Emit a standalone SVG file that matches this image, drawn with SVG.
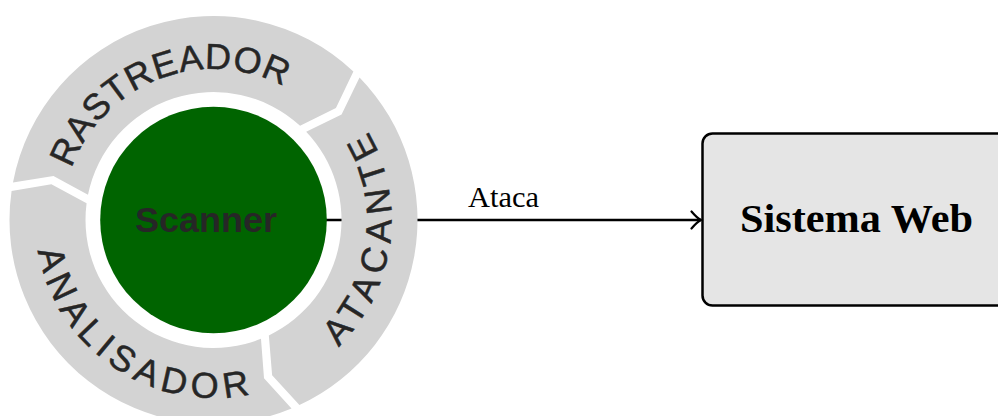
<svg xmlns="http://www.w3.org/2000/svg" width="998" height="416" viewBox="0 0 998 416">
<style>
.seg{fill:#d3d3d3;stroke:none}
.ring{font-family:"Liberation Sans",Arial,sans-serif;font-size:36px;fill:#262626;stroke:#262626;stroke-width:0.5}
.conn{stroke:#000;stroke-width:2.4;fill:none}
</style>
<defs>
<marker id="arr" markerUnits="userSpaceOnUse" viewBox="0 0 14 20" markerWidth="14" markerHeight="20" refX="11" refY="10" orient="auto">
<path d="M1.5,1.5 Q7,8 11,10 Q7,12 1.5,18.5" fill="none" stroke="#000" stroke-width="2.2" stroke-linecap="round"/>
</marker>
<path id="pR" d="M71.57,168.48 A151,151 0 0 1 344.27,144.5"/>
<path id="pA" d="M338.37,346.85 A178,178 0 0 0 302.5,65.85"/>
<path id="pN" d="M38.18,250.76 A178,178 0 0 0 302.5,374.15"/>
</defs>
<g id="sistema-web">
<rect x="702.5" y="133.5" width="400" height="172" rx="10" fill="#e5e5e5" stroke="#000" stroke-width="2.5"/>
<text x="740" y="231.7" font-family="Liberation Serif,'Times New Roman',serif" font-weight="bold" font-size="41" textLength="233" lengthAdjust="spacingAndGlyphs" fill="#000">Sistema Web</text>
</g>
<g id="connectors">
<line class="conn" x1="326" y1="220" x2="701" y2="220" marker-end="url(#arr)"/>
<text x="468" y="207" font-family="Liberation Serif,'Times New Roman',serif" font-size="29" textLength="71" lengthAdjust="spacingAndGlyphs" fill="#000">Ataca</text>
</g>
<g id="rastreador">
<path class="seg" d="M12.99,182.45 A204,204 0 0 1 353.38,71.51 L335.94,107.91 L300.09,125.74 A128,128 0 0 0 87.99,194.86 L53.45,175.96 Z"/>
<text class="ring" letter-spacing="0.8"><textPath href="#pR">RASTREADOR</textPath></text>
</g>
<g id="atacante">
<path class="seg" d="M359.54,77.56 A204,204 0 0 1 299.42,405.02 L272.12,375.3 L268.85,335.41 A128,128 0 0 0 306.18,131.71 L341.57,114.39 Z"/>
<text class="ring" letter-spacing="6.7"><textPath href="#pA">ATACANTE</textPath></text>
</g>
<g id="analisador">
<path class="seg" d="M291.53,408.49 A204,204 0 0 1 11.58,190.93 L51.38,184.3 L86.59,203.35 A128,128 0 0 0 260.98,338.87 L264.01,378.13 Z"/>
<text class="ring" letter-spacing="5.9"><textPath href="#pN">ANALISADOR</textPath></text>
</g>
<g id="scanner">
<circle cx="213.5" cy="220" r="113.3" fill="#006400"/>
<text x="206" y="231.5" text-anchor="middle" font-family="Liberation Sans,Arial,sans-serif" font-weight="bold" font-size="35" textLength="142" lengthAdjust="spacingAndGlyphs" fill="#262626">Scanner</text>
</g>
</svg>
